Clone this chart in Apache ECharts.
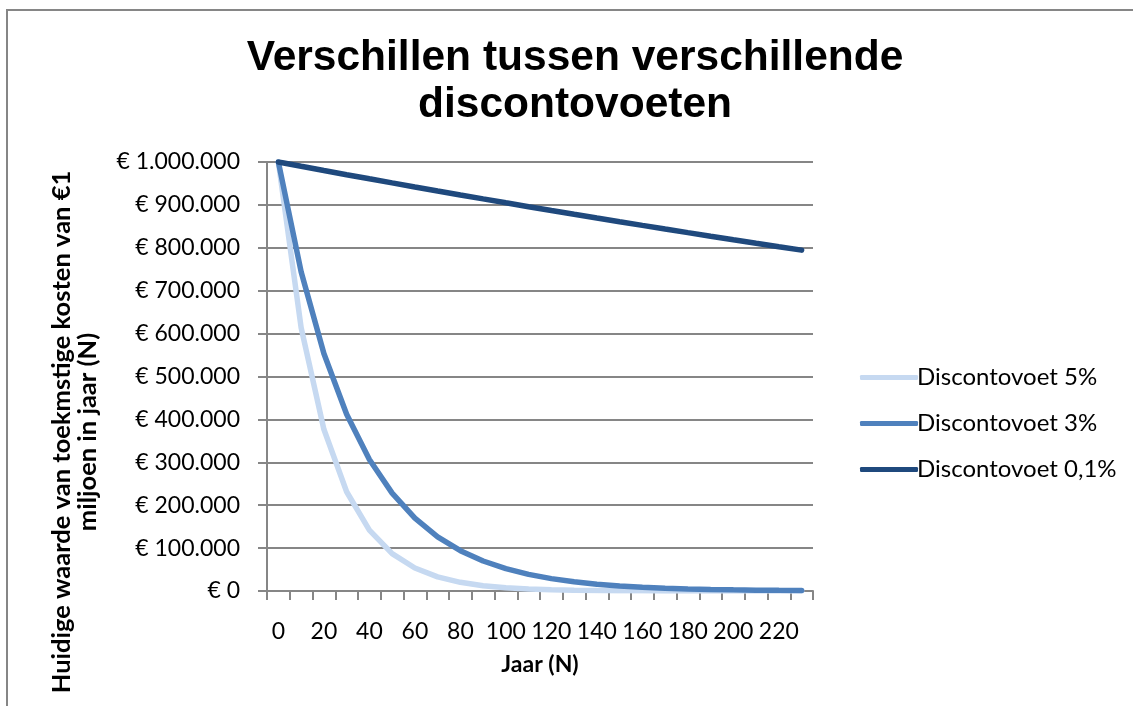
<!DOCTYPE html>
<html>
<head>
<meta charset="utf-8">
<script src="https://cdn.jsdelivr.net/npm/echarts@6/dist/echarts.min.js"></script>
<style>
  html, body { margin: 0; padding: 0; background: #fff; }
  #chart { width: 1133px; height: 706px; }
</style>
</head>
<body>
<div id="chart"></div>
<script>
// jaren (categorieen op de x-as)
var jaren = [0, 10, 20, 30, 40, 50, 60, 70, 80, 90, 100, 110, 120, 130, 140, 150, 160, 170, 180, 190, 200, 210, 220, 230];

var voet5 = [1000000, 613913, 376889, 231377, 142046, 87204, 53536, 32866, 20177, 12387, 7604, 4668, 2866, 1759, 1080, 663, 407, 250, 153, 94, 58, 35, 22, 13];
var voet3 = [1000000, 744094, 553676, 411987, 306557, 228107, 169733, 126297, 93977, 69928, 52033, 38717, 28809, 21437, 15951, 11869, 8832, 6572, 4890, 3639, 2708, 2015, 1499, 1116];
var voet01 = [1000000, 990055, 980209, 970461, 960809, 951253, 941793, 932427, 923154, 913973, 904883, 895884, 886974, 878153, 869419, 860772, 852212, 843736, 835345, 827038, 818813, 810669, 802607, 794625];

var reeksNamen = ['Discontovoet 5%', 'Discontovoet 3%', 'Discontovoet 0,1%'];
var kleuren = ['#c6d9f1', '#4f81bd', '#1f497d'];

function euro(v) {
	var s = String(v).replace(/\B(?=(\d{3})+(?!\d))/g, '.');
	return '€ ' + s;
}

var myChart = echarts.init(document.getElementById('chart'));
var grijs = '#868686';

option = {
	animation: false,
	backgroundColor: '#fff',
	color: kleuren,
	graphic: [
		{
			type: 'rect',
			shape: { x: 7, y: 10, width: 1200, height: 800 },
			style: { fill: 'none', stroke: grijs, lineWidth: 2 }
		},
		{
			type: 'text',
			x: 575, y: 82,
			style: {
				text: 'Verschillen tussen verschillende\ndiscontovoeten',
				font: 'bold 42.5px "Liberation Sans", Arial, sans-serif',
				fill: '#000',
				align: 'center',
				verticalAlign: 'middle',
				lineHeight: 47
			}
		},
		{
			type: 'text',
			x: 75, y: 432,
			rotation: Math.PI / 2,
			style: {
				text: 'Huidige waarde van toekmstige kosten van €1\nmiljoen in jaar (N)',
				font: 'bold 25.5px Lato, "Noto Sans", sans-serif',
				fill: '#000',
				align: 'center',
				verticalAlign: 'middle',
				lineHeight: 26
			}
		}
	],
	legend: {
		orient: 'vertical',
		left: 855,
		top: 359,
		itemWidth: 58,
		itemHeight: 5,
		itemGap: 19,
		icon: 'roundRect',
		data: reeksNamen,
		textStyle: { fontFamily: 'Lato', fontSize: 24, color: '#000', padding: [0, 0, 0, -6], lineHeight: 27 }
	},
	grid: {
		left: 267,
		right: 320,
		top: 162,
		bottom: 115
	},
	xAxis: {
		type: 'category',
		data: jaren,
		name: 'Jaar (N)',
		nameLocation: 'middle',
		nameGap: 62,
		nameTextStyle: { fontFamily: 'Lato', fontSize: 23, fontWeight: 'bold', color: '#000' },
		axisLine: { lineStyle: { color: grijs, width: 2 } },
		axisTick: { show: true, interval: 0, length: 9, lineStyle: { color: grijs, width: 2 } },
		axisLabel: { interval: 1, margin: 29, fontFamily: 'Lato', fontSize: 23, color: '#000' },
		splitLine: { show: false }
	},
	yAxis: {
		type: 'value',
		min: 0,
		max: 1000000,
		interval: 100000,
		axisLine: { show: true, lineStyle: { color: grijs, width: 2 } },
		axisTick: { show: true, inside: false, length: 9, lineStyle: { color: grijs, width: 2 } },
		axisLabel: { margin: 27, fontFamily: 'Lato', fontSize: 23, color: '#000', formatter: euro },
		splitLine: { show: true, lineStyle: { color: grijs, width: 2 } }
	},
	series: [
		{ name: reeksNamen[0], type: 'line', data: voet5, symbol: 'none', lineStyle: { width: 5.5, color: kleuren[0], cap: 'round' }, itemStyle: { color: kleuren[0] } },
		{ name: reeksNamen[1], type: 'line', data: voet3, symbol: 'none', lineStyle: { width: 5.5, color: kleuren[1], cap: 'round' }, itemStyle: { color: kleuren[1] } },
		{ name: reeksNamen[2], type: 'line', data: voet01, symbol: 'none', lineStyle: { width: 5.5, color: kleuren[2], cap: 'round' }, itemStyle: { color: kleuren[2] } }
	]
};
myChart.setOption(option);
</script>
</body>
</html>
